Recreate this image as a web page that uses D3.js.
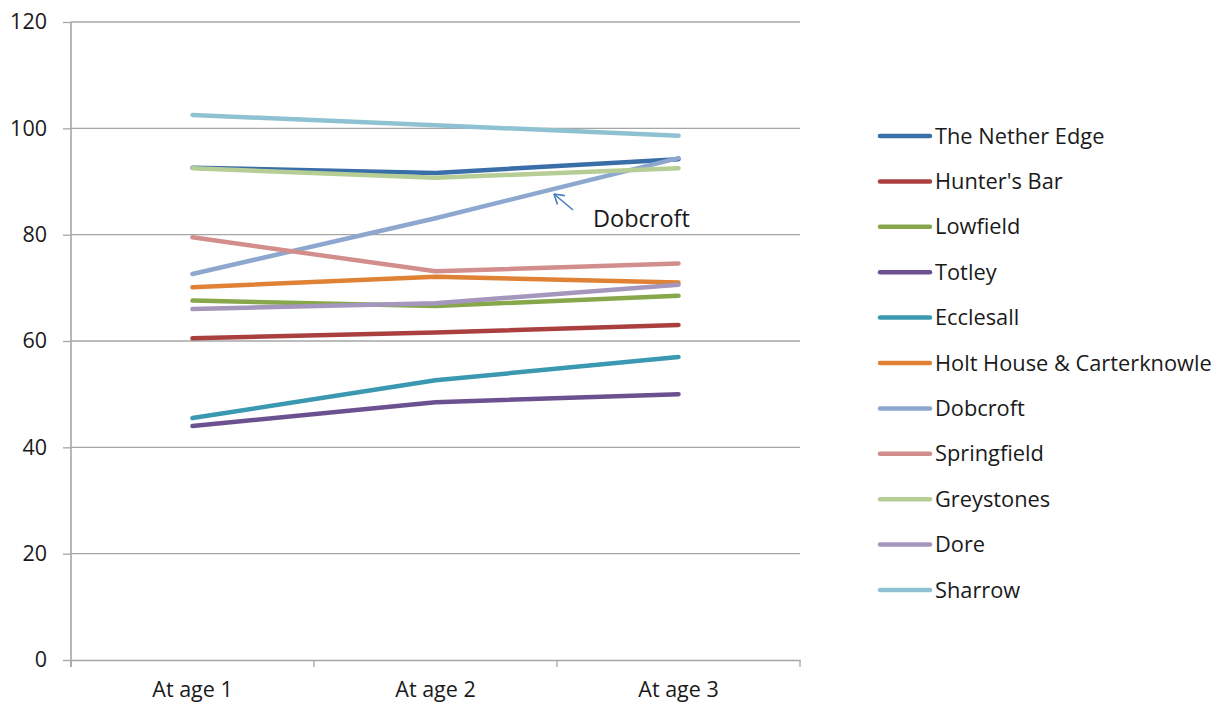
<!DOCTYPE html>
<html>
<head>
<meta charset="utf-8">
<script src="https://cdn.jsdelivr.net/npm/d3@7"></script>
<style>
  body { margin: 0; background: #fff; }
  svg { display: block; font-family: "Open Sans", "Noto Sans", sans-serif; }
</style>
</head>
<body>
<svg id="chart" width="1229" height="707"></svg>
<script>
// Categories and series
const categories = ["At age 1", "At age 2", "At age 3"];
const seriesNames = ["The Nether Edge", "Hunter's Bar", "Lowfield", "Totley", "Ecclesall",
  "Holt House & Carterknowle", "Dobcroft", "Springfield", "Greystones", "Dore", "Sharrow"];
const netherEdge = [92.6, 91.6, 94.2];
const huntersBar = [60.5, 61.6, 63.0];
const lowfield = [67.6, 66.6, 68.5];
const totley = [44.0, 48.5, 50.0];
const ecclesall = [45.5, 52.6, 57.0];
const holtHouse = [70.1, 72.1, 71.0];
const dobcroft = [72.6, 83.1, 94.4];
const springfield = [79.5, 73.1, 74.6];
const greystones = [92.5, 90.7, 92.5];
const dore = [66.0, 67.1, 70.6];
const sharrow = [102.5, 100.6, 98.6];
const seriesValues = [netherEdge, huntersBar, lowfield, totley, ecclesall,
  holtHouse, dobcroft, springfield, greystones, dore, sharrow];
const seriesColors = ["#3a6ea8", "#a9403f", "#86a84a", "#6c5190", "#3a99b1",
  "#df8236", "#8da7cf", "#d28e8c", "#b6ce95", "#a596bd", "#8ec2d2"];
const yTicks = [0, 20, 40, 60, 80, 100, 120];
const annotationLabel = "Dobcroft";

const svg = d3.select("#chart");
const plot = { left: 71, right: 800, top: 22, bottom: 660 };

const x = d3.scaleBand().domain(categories).range([plot.left, plot.right]);
const y = d3.scaleLinear().domain([0, 120]).range([plot.bottom, plot.top]);

// Horizontal gridlines
svg.append("g")
  .selectAll("line")
  .data(yTicks.filter(d => d > 0))
  .join("line")
  .attr("x1", plot.left).attr("x2", plot.right)
  .attr("y1", d => y(d)).attr("y2", d => y(d))
  .attr("stroke", "#a6a6a6").attr("stroke-width", 1.3);

// Y axis
const yAxis = svg.append("g")
  .attr("transform", `translate(${plot.left},0)`)
  .call(d3.axisLeft(y).tickValues(yTicks).tickSize(8).tickPadding(16));
yAxis.select(".domain").remove();
yAxis.selectAll(".tick line").attr("stroke", "#a6a6a6").attr("stroke-width", 1.3);
yAxis.selectAll(".tick text").attr("fill", "#1a1a1a").style("font-size", "21.5px")
  .style("font-family", "'Open Sans', sans-serif");
svg.append("line")
  .attr("x1", plot.left).attr("x2", plot.left)
  .attr("y1", plot.top).attr("y2", plot.bottom + 7)
  .attr("stroke", "#a6a6a6").attr("stroke-width", 1.6);

// X axis
const xAxis = svg.append("g")
  .attr("transform", `translate(0,${plot.bottom})`)
  .call(d3.axisBottom(x).tickSize(0).tickPadding(22));
xAxis.select(".domain").attr("stroke", "#a6a6a6").attr("stroke-width", 1.6);
xAxis.selectAll(".tick text").attr("fill", "#1a1a1a").style("font-size", "21.5px")
  .style("font-family", "'Open Sans', sans-serif");
// Category boundary ticks
const bounds = categories.map(c => x(c)).concat([x(categories[categories.length - 1]) + x.bandwidth()]);
svg.append("g").selectAll("line").data(bounds).join("line")
  .attr("x1", d => d).attr("x2", d => d)
  .attr("y1", plot.bottom).attr("y2", plot.bottom + 7)
  .attr("stroke", "#a6a6a6").attr("stroke-width", 1.3);

// Series lines
const line = d3.line()
  .x((d, i) => x(categories[i]) + x.bandwidth() / 2)
  .y(d => y(d));
svg.append("g").selectAll("path")
  .data(seriesValues)
  .join("path")
  .attr("d", d => line(d))
  .attr("fill", "none")
  .attr("stroke", (d, i) => seriesColors[i])
  .attr("stroke-width", 4.5)
  .attr("stroke-linecap", "round")
  .attr("stroke-linejoin", "round");

// Annotation pointing at Dobcroft
const ann = svg.append("g");
const ax0 = 573, ay0 = 210, ax1 = 554, ay1 = 194;
ann.append("line")
  .attr("x1", ax0).attr("y1", ay0).attr("x2", ax1).attr("y2", ay1)
  .attr("stroke", "#4a7ebf").attr("stroke-width", 1.6);
const ang = Math.atan2(ay0 - ay1, ax0 - ax1);
[0.55, -0.55].forEach(a => {
  ann.append("line")
    .attr("x1", ax1).attr("y1", ay1)
    .attr("x2", ax1 + 11 * Math.cos(ang + a)).attr("y2", ay1 + 11 * Math.sin(ang + a))
    .attr("stroke", "#4a7ebf").attr("stroke-width", 1.6);
});
ann.append("text")
  .attr("x", 593).attr("y", 227)
  .attr("fill", "#1a1a1a")
  .style("font-size", "23.5px")
  .text(annotationLabel);

// Legend
const legend = svg.append("g");
const rows = legend.selectAll("g").data(seriesNames).join("g")
  .attr("transform", (d, i) => `translate(880,${136 + i * 45.4})`);
rows.append("line")
  .attr("x1", 0).attr("x2", 50).attr("y1", 0).attr("y2", 0)
  .attr("stroke", (d, i) => seriesColors[i])
  .attr("stroke-width", 4.5)
  .attr("stroke-linecap", "round");
rows.append("text")
  .attr("x", 55).attr("y", 0).attr("dy", "0.35em")
  .attr("fill", "#1a1a1a")
  .style("font-size", "21.8px")
  .text(d => d);
</script>
</body>
</html>
